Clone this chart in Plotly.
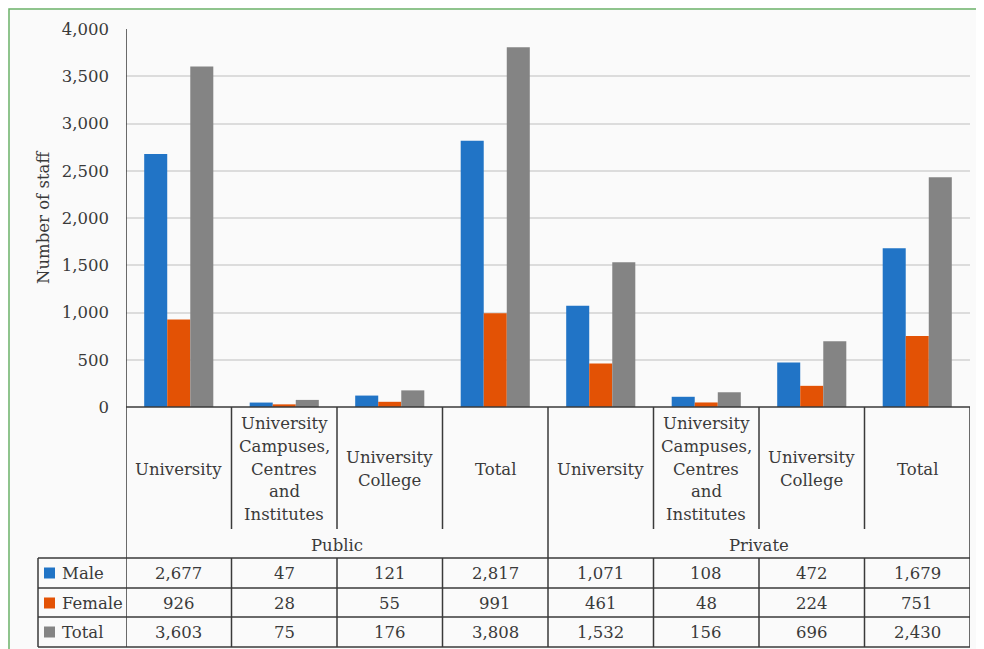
import plotly.graph_objects as go

# ---- data ----
groups = ["Public", "Private"]
categories = ["University", "University<br>Campuses,<br>Centres<br>and<br>Institutes",
              "University<br>College", "Total"] * 2
series_names = ["Male", "Female", "Total"]
male = [2677, 47, 121, 2817, 1071, 108, 472, 1679]
female = [926, 28, 55, 991, 461, 48, 224, 751]
total = [3603, 75, 176, 3808, 1532, 156, 696, 2430]
colors = ["#2174c6", "#e35205", "#848484"]
y_ticks = [0, 500, 1000, 1500, 2000, 2500, 3000, 3500, 4000]

FONT = "DejaVu Serif"
FS = 16.5
TXT = "#3a3a3a"
LINE = "#3a3a3a"

OFF = 8  # browser body margin
# page-pixel geometry of the plot area
PL, PR, PT, PB = 126, 970, 29, 407
W, H = 984, 649 - OFF
L, T = PL - OFF, PT - OFF
R = W - (PR - OFF)
B = H - (PB - OFF)
PW = PR - PL
PH = PB - PT


def py(px):
    return (PB - px) / PH


def pxx(px):
    return (px - PL) / PW


xs = list(range(len(categories)))
fig = go.Figure()
for name, vals, c in zip(series_names, [male, female, total], colors):
    fig.add_trace(go.Bar(x=xs, y=vals, name=name, marker=dict(color=c, line=dict(width=0)),
                         showlegend=False))

shapes = []
ann = []
# background with green border
shapes.append(dict(type="rect", xref="paper", yref="paper", x0=pxx(9), x1=pxx(1010),
                   y0=py(700), y1=py(9), fillcolor="#fafafa",
                   line=dict(color="#6cb36a", width=1.5), layer="below"))

n = len(categories)
lw = 1.5
# axis line extended down through the table
shapes.append(dict(type="line", xref="x", yref="paper", x0=-0.5, x1=-0.5, y0=py(647), y1=1,
                   line=dict(color=LINE, width=lw)))
# right border
shapes.append(dict(type="line", xref="x", yref="paper", x0=n - 0.5, x1=n - 0.5, y0=py(647), y1=0,
                   line=dict(color=LINE, width=lw)))
# x-axis baseline
shapes.append(dict(type="line", xref="x", yref="paper", x0=-0.5, x1=n - 0.5, y0=0, y1=0,
                   line=dict(color=LINE, width=lw)))
# inner verticals
half = n // 2
for i in range(1, n):
    xb = i - 0.5
    if i == half:
        shapes.append(dict(type="line", xref="x", yref="paper", x0=xb, x1=xb, y0=py(647), y1=0,
                           line=dict(color=LINE, width=lw)))
    else:
        shapes.append(dict(type="line", xref="x", yref="paper", x0=xb, x1=xb, y0=py(529), y1=0,
                           line=dict(color=LINE, width=lw)))
        shapes.append(dict(type="line", xref="x", yref="paper", x0=xb, x1=xb, y0=py(647), y1=py(558),
                           line=dict(color=LINE, width=lw)))
# legend column left border
shapes.append(dict(type="line", xref="paper", yref="paper", x0=pxx(38), x1=pxx(38),
                   y0=py(647), y1=py(558), line=dict(color=LINE, width=lw)))
# horizontal table lines
for ypx in [558, 588, 617, 647]:
    shapes.append(dict(type="line", xref="paper", yref="paper", x0=pxx(38), x1=1,
                       y0=py(ypx), y1=py(ypx), line=dict(color=LINE, width=lw)))

# category labels (one annotation per text line for Excel-like line spacing)
LS = 22.8
for i, c in enumerate(categories):
    lines = c.split("<br>")
    k = len(lines)
    for j, ln in enumerate(lines):
        ypx = 469 + (j - (k - 1) / 2) * LS
        ann.append(dict(x=i, y=py(ypx), xref="x", yref="paper", text=ln, showarrow=False,
                        font=dict(family=FONT, size=FS, color=TXT),
                        xanchor="center", yanchor="middle"))
# group labels
for g, gname in enumerate(groups):
    ann.append(dict(x=g * half + (half - 1) / 2, y=py(545), xref="x", yref="paper", text=gname,
                    showarrow=False, font=dict(family=FONT, size=FS, color=TXT),
                    xanchor="center", yanchor="middle"))
# data table rows
row_y = [573, 603, 632]
for name, vals, c, ry in zip(series_names, [male, female, total], colors, row_y):
    shapes.append(dict(type="rect", xref="paper", yref="paper", x0=pxx(44), x1=pxx(55),
                       y0=py(ry + 5.5), y1=py(ry - 5.5), fillcolor=c, line=dict(width=0)))
    ann.append(dict(x=pxx(60), y=py(ry), xref="paper", yref="paper", text=name, showarrow=False,
                    font=dict(family=FONT, size=FS, color=TXT), xanchor="left", yanchor="middle"))
    for i, v in enumerate(vals):
        ann.append(dict(x=i, y=py(ry), xref="x", yref="paper", text=f"{v:,}", showarrow=False,
                        font=dict(family=FONT, size=FS, color=TXT), xanchor="center",
                        yanchor="middle"))
# y-axis title
ann.append(dict(x=pxx(43), y=py(218), xref="paper", yref="paper", text="Number of staff",
                textangle=-90, showarrow=False, font=dict(family=FONT, size=FS, color=TXT),
                xanchor="center", yanchor="middle"))

fig.update_layout(
    width=W, height=H,
    margin=dict(l=L, r=R, t=T, b=B, pad=0),
    paper_bgcolor="#fafafa", plot_bgcolor="#fafafa",
    barmode="group", bargap=0.345, bargroupgap=0,
    font=dict(family=FONT, size=FS, color=TXT),
    shapes=shapes, annotations=ann,
    xaxis=dict(range=[-0.5, n - 0.5], showticklabels=False, showgrid=False, zeroline=False,
               showline=False, fixedrange=True),
    yaxis=dict(range=[0, 4000], tickvals=y_ticks, tickformat=",", showgrid=True,
               gridcolor="#dcdcdc", gridwidth=1.5, zeroline=False, showline=False,
               ticks="", ticklabelstandoff=16, tickfont=dict(family=FONT, size=FS, color=TXT)),
)

fig.write_html("out.html")
